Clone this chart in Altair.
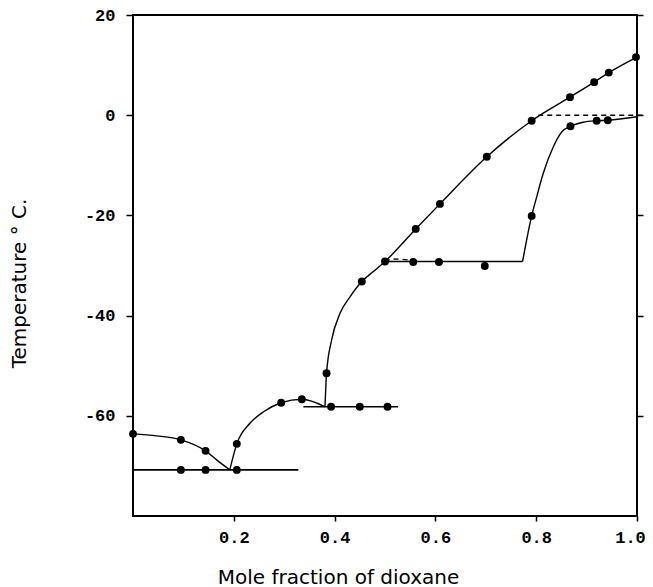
import altair as alt
import pandas as pd

# ---- traced curves (mole fraction of dioxane, temperature °C) ----
# ice liquidus branch (left)
curve1_x = [0.0, 0.047, 0.095, 0.144, 0.166, 0.192]
curve1_y = [-63.6, -64.0, -64.8, -67.0, -68.8, -70.8]
# compound branch
curve2_x = [0.192, 0.206, 0.232, 0.259, 0.294, 0.335, 0.381]
curve2_y = [-70.8, -65.6, -61.5, -59.2, -57.4, -56.7, -58.2]
# upper liquidus (rising to pure dioxane)
curve3_x = [0.381, 0.384, 0.394, 0.411, 0.431, 0.454, 0.477, 0.500,
            0.561, 0.609, 0.702, 0.791, 0.867, 0.915, 0.944, 1.0]
curve3_y = [-58.2, -51.5, -44.9, -39.5, -36.2, -33.2, -31.2, -29.2,
            -22.7, -17.7, -8.3, -1.1, 3.6, 6.6, 8.5, 11.6]
# lower right curve
curve4_x = [0.773, 0.791, 0.801, 0.814, 0.834, 0.851, 0.868, 0.893, 0.920, 0.942, 1.0]
curve4_y = [-29.2, -20.1, -16.3, -11.6, -6.3, -3.3, -2.2, -1.4, -1.1, -1.0, -0.3]

# horizontal (eutectic / transition) lines: x start, x end, temperature
hline_x1 = [0.0, 0.338, 0.500]
hline_x2 = [0.328, 0.526, 0.773]
hline_y = [-70.8, -58.2, -29.2]

# dashed lines
dash1_x = [0.500, 0.517, 0.546, 0.556]
dash1_y = [-29.2, -28.7, -28.9, -29.3]
dash2_x = [0.804, 1.012]
dash2_y = [0.0, 0.0]

# measured points
liq_pts_x = [0.0, 0.095, 0.144, 0.206, 0.294, 0.335, 0.384, 0.454, 0.500,
             0.561, 0.609, 0.702, 0.791, 0.867, 0.915, 0.944, 0.998]
liq_pts_y = [-63.6, -64.8, -67.0, -65.6, -57.4, -56.7, -51.5, -33.2, -29.2,
             -22.7, -17.7, -8.3, -1.1, 3.6, 6.6, 8.5, 11.6]
sol_pts_x = [0.095, 0.144, 0.206, 0.393, 0.450, 0.505, 0.556, 0.607, 0.698,
             0.791, 0.868, 0.920, 0.942]
sol_pts_y = [-70.8, -70.8, -70.8, -58.2, -58.2, -58.2, -29.3, -29.3, -30.1,
             -20.1, -2.2, -1.1, -1.0]

X_TICKS = [0.2, 0.4, 0.6, 0.8, 1.0]
Y_TICKS = [20, 0, -20, -40, -60]

# ---- tables ----
def long(seg_lists):
    rows = []
    for name, xs, ys in seg_lists:
        for i, (a, b) in enumerate(zip(xs, ys)):
            rows.append({"x": a, "y": b, "seg": name, "o": i})
    return pd.DataFrame(rows)

curves = long([("c1", curve1_x, curve1_y), ("c2", curve2_x, curve2_y),
               ("c3", curve3_x, curve3_y), ("c4", curve4_x, curve4_y)])
hlines = long([(f"h{i}", [a, b], [y, y]) for i, (a, b, y) in
               enumerate(zip(hline_x1, hline_x2, hline_y))])
dashes = long([("d1", dash1_x, dash1_y), ("d2", dash2_x, dash2_y)])
pts = pd.DataFrame({"x": liq_pts_x + sol_pts_x, "y": liq_pts_y + sol_pts_y})

xs = alt.Scale(domain=[0, 1], nice=False, zero=False)
ys = alt.Scale(domain=[-80, 20], nice=False, zero=False)

x_axis = alt.Axis(values=X_TICKS, labelExpr="format(datum.value, '.1f')",
                  title="Mole fraction of dioxane", domain=False, grid=False,
                  ticks=True, tickSize=5, tickWidth=1.5, tickColor="black",
                  labelFont="Liberation Mono", labelFontWeight="bold",
                  labelFontSize=17, labelColor="black", labelPadding=8,
                  labelFlush=False,
                  labelOffset={"condition": {"test": "datum.value >= 0.99", "value": -7},
                               "value": 0},
                  titleFont="DejaVu Sans", titleFontSize=20, titleFontWeight="normal",
                  titleColor="black", titleX=205, titleY=67, titleAlign="center",
                  titleBaseline="alphabetic")
y_axis = alt.Axis(values=Y_TICKS, labelExpr="'' + datum.value",
                  title="Temperature ° C.", domain=False, grid=False,
                  ticks=True, tickSize=7, tickWidth=1.5, tickColor="black",
                  labelFont="Liberation Mono", labelFontWeight="bold",
                  labelFontSize=17, labelColor="black", labelPadding=11,
                  labelFlush=False,
                  titleFont="DejaVu Sans", titleFontSize=20, titleFontWeight="normal",
                  titleColor="black", titleAngle=-90, titleX=-108, titleY=268,
                  titleAlign="center", titleBaseline="alphabetic")
y_axis_right = alt.Axis(values=Y_TICKS, orient="right", labels=False, title=None,
                        domain=False, grid=False, ticks=True, tickSize=6,
                        tickWidth=1.5, tickColor="black")

curve_layer = alt.Chart(curves).mark_line(
    interpolate="monotone", color="black", strokeWidth=1.4
).encode(
    x=alt.X("x:Q", scale=xs, axis=x_axis),
    y=alt.Y("y:Q", scale=ys, axis=y_axis),
    detail="seg:N", order="o:Q",
)

hline_layer = alt.Chart(hlines).mark_line(color="black", strokeWidth=1.6).encode(
    x=alt.X("x:Q", scale=xs, axis=None),
    y=alt.Y("y:Q", scale=ys, axis=None),
    detail="seg:N", order="o:Q",
)

dash_layer = alt.Chart(dashes).mark_line(
    interpolate="monotone", color="black", strokeWidth=1.4, strokeDash=[5, 4]
).encode(
    x=alt.X("x:Q", scale=xs, axis=None),
    y=alt.Y("y:Q", scale=ys, axis=None),
    detail="seg:N", order="o:Q",
)

pt_layer = alt.Chart(pts).mark_circle(size=62, color="black", opacity=1).encode(
    x=alt.X("x:Q", scale=xs, axis=None),
    y=alt.Y("y:Q", scale=ys, axis=None),
)

right_axis_layer = alt.Chart(pts).mark_circle(opacity=0).encode(
    x=alt.X("x:Q", scale=xs, axis=None),
    y=alt.Y("y:Q", scale=ys, axis=y_axis_right),
)

chart = alt.layer(
    curve_layer, hline_layer, dash_layer, pt_layer, right_axis_layer
).resolve_axis(x="independent", y="independent").properties(
    width=504, height=501,
    padding={"left": 125, "top": 7, "right": 8, "bottom": 71},
    autosize="none",
    background="white",
).configure_view(stroke="black", strokeWidth=2)

chart.save("out.html", embed_options={"renderer": "svg", "actions": False})
